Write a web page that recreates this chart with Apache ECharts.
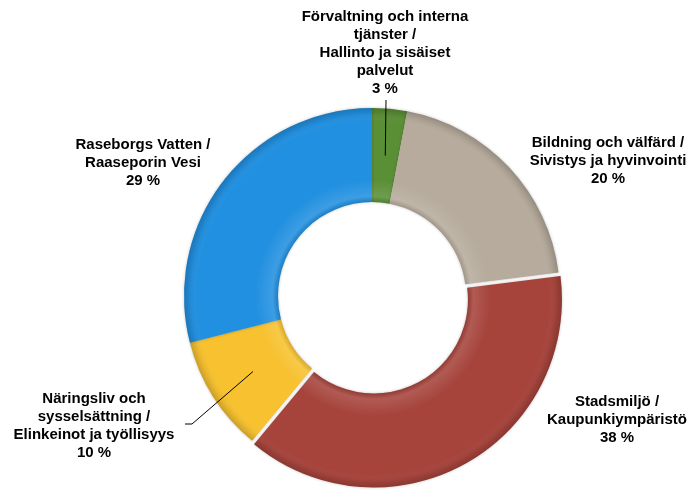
<!DOCTYPE html>
<html>
<head>
<meta charset="utf-8">
<script src="https://cdn.jsdelivr.net/npm/echarts@6/dist/echarts.min.js"></script>
<style>
html,body{margin:0;padding:0;background:#fff;}
#chart{width:692px;height:490px;}
</style>
</head>
<body>
<div id="chart"></div>
<script>
// Data (clockwise from top)
const categories = [
  'Förvaltning och interna\ntjänster /\nHallinto ja sisäiset\npalvelut',
  'Bildning och välfärd /\nSivistys ja hyvinvointi',
  'Stadsmiljö /\nKaupunkiympäristö',
  'Näringsliv och\nsysselsättning /\nElinkeinot ja työllisyys',
  'Raseborgs Vatten /\nRaaseporin Vesi'
];
const values = [3, 20, 38, 10, 29];

// Styles / layout (kept separate from data)
const colors = ['#5b8f36', '#b6ab9c', '#a6443c', '#f7c12f', '#2290e0'];
const labelCenters = [[385, 53], [608, 161], [617, 420], [94, 426], [143, 163]];
// leader-line label-side points (the slice end is computed from the pie layout)
const leaderStarts = [
  [[386, 100]],
  null,
  null,
  [[185, 424], [192, 424]],
  null
];
const CENTER = [372, 296];
const RADIUS = [94, 188];
const OFFSET = 4;

const chart = echarts.init(document.getElementById('chart'));
chart.setOption({
  animation: false,
  series: [{
    type: 'pie',
    center: CENTER,
    radius: RADIUS,
    startAngle: 90,
    clockwise: true,
    selectedMode: 'single',
    selectedOffset: OFFSET,
    label: { show: false },
    labelLine: { show: false },
    itemStyle: { borderWidth: 0, shadowBlur: 3, shadowColor: 'rgba(0,0,0,0.25)' },
    emphasis: { disabled: true },
    data: categories.map((name, i) => ({
      name: name, value: values[i], selected: i === 2,
      itemStyle: { color: colors[i] }
    }))
  }, {
    // subtle bevel shading overlay
    type: 'pie',
    silent: true,
    center: CENTER,
    radius: RADIUS,
    startAngle: 90,
    clockwise: true,
    selectedMode: 'single',
    selectedOffset: OFFSET,
    label: { show: false },
    labelLine: { show: false },
    itemStyle: {
      borderWidth: 0,
      color: {
        type: 'radial', x: CENTER[0], y: CENTER[1], r: RADIUS[1], global: true,
        colorStops: [
          { offset: 0, color: 'rgba(0,0,0,0.15)' },
          { offset: 0.5, color: 'rgba(0,0,0,0.12)' },
          { offset: 0.53, color: 'rgba(255,255,255,0.12)' },
          { offset: 0.62, color: 'rgba(255,255,255,0)' },
          { offset: 0.93, color: 'rgba(255,255,255,0)' },
          { offset: 0.975, color: 'rgba(0,0,0,0.08)' },
          { offset: 1, color: 'rgba(0,0,0,0.18)' }
        ]
      }
    },
    emphasis: { disabled: true },
    data: categories.map((name, i) => ({ name: name, value: values[i], selected: i === 2 }))
  }, {
    type: 'pie',
    silent: true,
    center: CENTER,
    radius: RADIUS,
    startAngle: 90,
    clockwise: true,
    avoidLabelOverlap: false,
    itemStyle: { color: 'rgba(0,0,0,0)', borderWidth: 0 },
    label: {
      show: true,
      position: 'outside',
      formatter: '{b}\n{c} %',
      fontFamily: 'Liberation Sans, Arial, sans-serif',
      fontWeight: 'bold',
      fontSize: 15,
      lineHeight: 18,
      color: '#000',
      align: 'center'
    },
    labelLine: { show: false },
    labelLayout: function (params) {
      const i = params.dataIndex;
      return { x: labelCenters[i][0], y: labelCenters[i][1], align: 'center', verticalAlign: 'middle' };
    },
    emphasis: { disabled: true },
    data: categories.map((name, i) => ({ name: name, value: values[i] }))
  }]
});

// Leader lines: end at the middle of the slice, derived from the pie layout
const data = chart.getModel().getSeriesByIndex(0).getData();
const graphics = [];
leaderStarts.forEach((pts, i) => {
  if (!pts) return;
  const L = data.getItemLayout(i);
  const mid = (L.startAngle + L.endAngle) / 2;
  const rm = (L.r + L.r0) / 2;
  const end = [L.cx + rm * Math.cos(mid), L.cy + rm * Math.sin(mid)];
  graphics.push({
    type: 'polyline', silent: true, z: 10,
    shape: { points: pts.concat([end]) },
    style: { stroke: '#000', lineWidth: 1, fill: null }
  });
});
chart.setOption({ graphic: graphics });
</script>
</body>
</html>
